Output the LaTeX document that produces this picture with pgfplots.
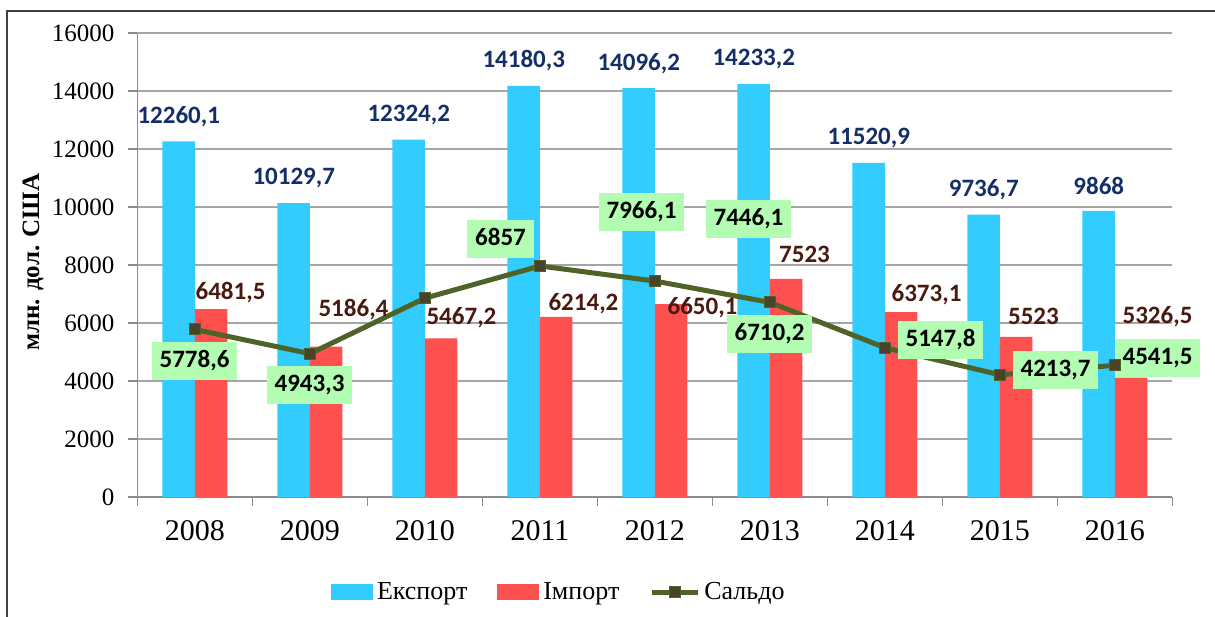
\documentclass[border=0pt]{standalone}
\usepackage{fontspec}
\setmainfont{Liberation Serif}
\newfontfamily\lblfont{Carlito}
\usepackage{pgfplots}
\usepackage{pgfplotstable}
\pgfplotsset{compat=1.18}

\definecolor{expc}{HTML}{33CCFF}
\definecolor{impc}{HTML}{FF5050}
\definecolor{salc}{HTML}{4F6228}
\definecolor{salm}{HTML}{494429}
\definecolor{explab}{HTML}{142E66}
\definecolor{implab}{HTML}{4A1A10}
\definecolor{boxc}{HTML}{B3FDB3}
\definecolor{gridc}{HTML}{A6A6A6}
\definecolor{axc}{HTML}{8C8C8C}
\definecolor{framec}{HTML}{404040}

\pgfplotstableread{
x exp imp sal
0 12260.1 6481.5 5778.6
1 10129.7 5186.4 4943.3
2 12324.2 5467.2 6857
3 14180.3 6214.2 7966.1
4 14096.2 6650.1 7446.1
5 14233.2 7523 6710.2
6 11520.9 6373.1 5147.8
7 9736.7 5523 4213.7
8 9868 4114 4541.5
}\data

\tikzset{
  lab/.style={font=\lblfont\bfseries\fontsize{12.5bp}{15bp}\selectfont, inner sep=0pt},
  elab/.style={lab, text=explab, yshift=12.5bp},
  ilab/.style={lab, text=implab},
  sbox/.style={lab, fill=boxc, text=black, inner xsep=4bp, inner ysep=4.75bp, text height=8bp, text depth=1.5bp},
}

\begin{document}
\begin{tikzpicture}
\useasboundingbox (-68.75bp,-60bp) rectangle (538.75bp,248.5bp);
\begin{axis}[
  at={(0,0)}, anchor=south west,
  scale only axis, width=517.5bp, height=232bp,
  xmin=-0.5, xmax=8.5, ymin=0, ymax=16000,
  ytick={0,2000,4000,6000,8000,10000,12000,14000,16000},
  scaled y ticks=false,
  xtick={-0.5,0.5,1.5,2.5,3.5,4.5,5.5,6.5,7.5,8.5},
  xticklabels={2008,2009,2010,2011,2012,2013,2014,2015,2016},
  x tick label as interval,
  ymajorgrids, grid style={draw=gridc, line width=0.75bp},
  axis x line*=bottom, axis y line*=left,
  axis line style={draw=axc, line width=0.75bp, -},
  tick align=outside, major tick length=4.5bp,
  tick style={draw=axc, line width=0.75bp},
  /pgf/number format/assume math mode=true,
  /pgf/number format/1000 sep={},
  yticklabel style={font=\fontsize{12.5bp}{15bp}\selectfont, xshift=-3.5bp},
  xticklabel style={font=\fontsize{15bp}{18bp}\selectfont, yshift=-4bp},
  ylabel={млн. дол. США},
  ylabel style={at={(axis description cs:-0.101,0.506)}, anchor=center, font=\bfseries\fontsize{12.5bp}{15bp}\selectfont},
  legend style={at={(0.408,-0.205)}, anchor=center, draw=none, fill=none,
    legend columns=3, font=\fontsize{13bp}{15bp}\selectfont,
    /tikz/every even column/.append style={column sep=13bp}},
  clip=false,
]
\addplot[ybar, bar width=16.25bp, bar shift=-8.125bp, fill=expc, draw=none,
  legend image code/.code={\fill[expc] (0bp,-4bp) rectangle (21bp,4bp);}]
  table[x=x,y=exp]{\data};
\addplot[ybar, bar width=16.25bp, bar shift=8.125bp, fill=impc, draw=none,
  legend image code/.code={\fill[impc] (0bp,-4bp) rectangle (21bp,4bp);}]
  table[x=x,y=imp]{\data};
\addplot[salc, line width=2.5bp, mark=square*, mark size=2.75bp,
  mark options={fill=salm, draw=salc, line width=0.5bp},
  legend image code/.code={\draw[salc, line width=2.5bp] (0bp,0bp) -- (23bp,0bp); \filldraw[fill=salm, draw=salc, line width=0.5bp] (8.75bp,-2.75bp) rectangle (14.25bp,2.75bp);}]
  table[x=x,y=sal]{\data};
\legend{Експорт, Імпорт, Сальдо}

% export labels
\node[elab] at (axis cs:-0.141,12260.1) {12260,1};
\node[elab] at (axis cs:0.859,10129.7) {10129,7};
\node[elab] at (axis cs:1.859,12324.2) {12324,2};
\node[elab] at (axis cs:2.859,14180.3) {14180,3};
\node[elab] at (axis cs:3.859,14096.2) {14096,2};
\node[elab] at (axis cs:4.859,14233.2) {14233,2};
\node[elab] at (axis cs:5.859,11520.9) {11520,9};
\node[elab] at (axis cs:6.859,9736.7) {9736,7};
\node[elab] at (axis cs:7.859,9868) {9868};
% import labels
\node[ilab] at (axis cs:0.309,7034) {6481,5};
\node[ilab] at (axis cs:1.378,6448) {5186,4};
\node[ilab] at (axis cs:2.317,6172) {5467,2};
\node[ilab] at (axis cs:3.378,6655) {6214,2};
\node[ilab] at (axis cs:4.413,6517) {6650,1};
\node[ilab] at (axis cs:5.300,8379) {7523};
\node[ilab] at (axis cs:6.361,6966) {6373,1};
\node[ilab] at (axis cs:7.291,6241) {5523};
\node[ilab] at (axis cs:8.370,6207) {5326,5};
% saldo labels
\node[sbox] at (axis cs:-0.004,4690) {5778,6};
\node[sbox] at (axis cs:0.996,3862) {4943,3};
\node[sbox] at (axis cs:2.657,8897) {6857};
\node[sbox] at (axis cs:3.883,9828) {7966,1};
\node[sbox] at (axis cs:4.813,9586) {7446,1};
\node[sbox] at (axis cs:4.996,5621) {6710,2};
\node[sbox] at (axis cs:6.483,5414) {5147,8};
\node[sbox] at (axis cs:7.483,4379) {4213,7};
\node[sbox] at (axis cs:8.370,4793) {4541,5};
\end{axis}
\draw[framec, line width=1bp] (-65.25bp,-60bp) -- (-65.25bp,243bp) -- (538.75bp,243bp);
\end{tikzpicture}
\end{document}
